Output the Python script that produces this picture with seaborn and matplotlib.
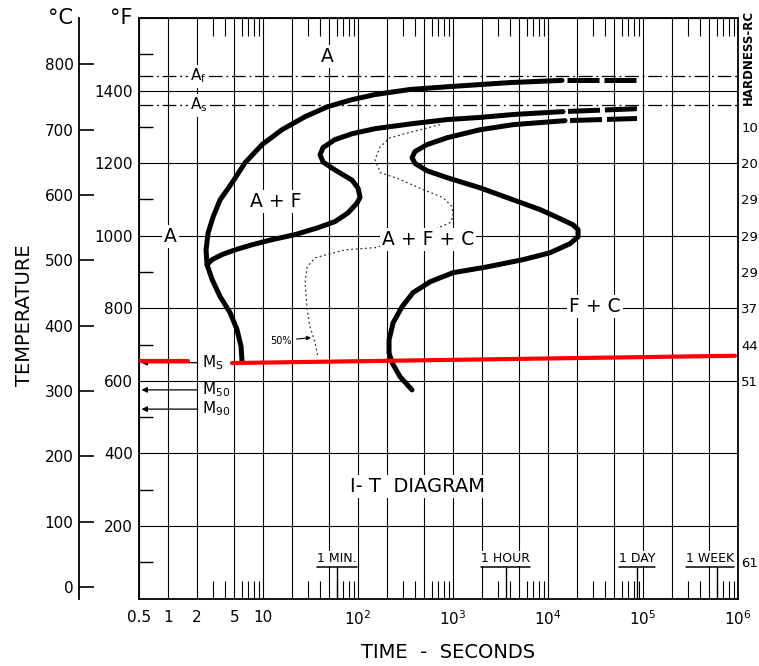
import matplotlib
matplotlib.use("Agg")
import matplotlib.pyplot as plt
import seaborn as sns

sns.set_style("white")
plt.rcParams['font.family'] = ['DejaVu Sans']
plt.rcParams['mathtext.default'] = 'regular'
plt.rcParams['text.color'] = 'black'
plt.rcParams['xtick.color'] = 'black'
plt.rcParams['ytick.color'] = 'black'
plt.rcParams['axes.labelcolor'] = 'black'

# ---------------- data (time in seconds, temperature in deg F) ----------------
# start of transformation (A -> A+F)
START_T = [6.01, 5.87, 5.32, 4.49, 3.53, 2.91, 2.57, 2.51, 2.64, 2.98, 3.53, 4.72, 6.46,
           9.76, 15.8, 27.7, 48.3, 86.5, 151, 352, 929, 3981, 14030]
START_F = [652, 694, 741, 788, 832, 879, 920, 961, 1008, 1052, 1099, 1146, 1201,
           1251, 1292, 1328, 1356, 1375, 1389, 1403, 1411, 1422, 1428]
START_TAIL_T = [14030, 86500]
START_TAIL_F = [1428, 1428]

# start of carbide (A+F -> A+F+C)
CARB_T = [2.57, 2.91, 3.70, 5.07, 7.66, 12.4, 21.7, 37.9, 57.3, 78.5, 97.6, 105, 100,
          86.5, 57.3, 42.8, 39.8, 42.8, 57.3, 86.5, 151, 379, 865, 1923, 4285, 14380]
CARB_F = [920, 934, 948, 961, 975, 989, 1003, 1022, 1039, 1063, 1090, 1106, 1131,
          1153, 1181, 1203, 1223, 1243, 1265, 1281, 1295, 1309, 1320, 1326, 1334, 1342]
CARB_TAIL_T = [14380, 86500]
CARB_TAIL_F = [1342, 1350]

# end of transformation (-> F+C)
END_T = [370, 277, 228, 212, 212, 234, 290, 379, 573, 1000, 2280, 5460, 10500, 17050,
         20700, 20700, 18300, 13370, 8240, 4285, 1923, 865, 532, 398, 370, 398, 532,
         865, 1923, 4285, 15100]
END_F = [575, 611, 650, 677, 713, 760, 804, 843, 873, 898, 914, 934, 953, 978,
         997, 1017, 1030, 1047, 1072, 1099, 1132, 1160, 1179, 1199, 1215, 1232, 1251,
         1270, 1292, 1306, 1317]
END_TAIL_T = [15100, 86500]
END_TAIL_F = [1317, 1323]

# 50 % transformation (dotted)
HALF_T = [730, 379, 217, 171, 151, 171, 277, 483, 785, 976, 1000, 929, 450, 151, 73,
          35.3, 29.1, 27.7, 29.1, 31.2, 35.3, 37.9]
HALF_F = [1306, 1287, 1270, 1245, 1210, 1174, 1155, 1127, 1105, 1080, 1052, 1036,
          1000, 967, 961, 939, 914, 870, 796, 749, 705, 664]

# red Ms marking line
RED_A_T = [0.5, 1.62]
RED_A_F = [655, 655]
RED_B_T = [4.7, 9.3e5]
RED_B_F = [649, 669]

AF_F = 1440
AS_F = 1360
MS_F = 650
M50_F = 575
M90_F = 522

X_MAJOR = [0.5, 1, 2, 5, 10, 20, 50, 100, 200, 500, 1e3, 2e3, 5e3, 1e4, 2e4, 5e4,
           1e5, 2e5, 5e5, 1e6]
X_LABELS = ['0.5', '1', '2', '5', '10', '', '', '$10^{2}$', '', '', '$10^{3}$', '', '',
            '$10^{4}$', '', '', '$10^{5}$', '', '', '$10^{6}$']
X_MINOR = [m * 10 ** e for e in range(0, 6) for m in (3, 4, 6, 7, 8, 9)]

F_MAJOR = [0, 200, 400, 600, 800, 1000, 1200, 1400, 1600]
F_LABELS = ['', '200', '400', '600', '800', '1000', '1200', '1400', '']
F_MINOR = [100, 300, 500, 700, 900, 1100, 1300, 1500]
C_TICKS = [0, 100, 200, 300, 400, 500, 600, 700, 800]

HRC_F = [1300, 1200, 1100, 1000, 900, 800, 700, 600, 100]
HRC_LABELS = ['10', '20', '29', '29', '29', '37', '44', '51', '61']

MARK_T = [60, 3600, 86400, 604800]
MARK_LABELS = ['1 MIN.', '1 HOUR', '1 DAY', '1 WEEK']

# ---------------- figure ----------------
fig = plt.figure(figsize=(7.59, 6.66), dpi=100)
ax = fig.add_axes([0.18379, 0.10135, 0.78854, 0.87162])
ax.set_xscale('log')

thick = dict(color='black', linewidth=3.6, solid_capstyle='round',
             solid_joinstyle='round', ax=ax, sort=False, estimator=None, zorder=4)
sns.lineplot(x=START_T, y=START_F, **thick)
sns.lineplot(x=CARB_T, y=CARB_F, **thick)
sns.lineplot(x=END_T, y=END_F, **thick)
dash_tail = dict(color='black', linewidth=3.6, ax=ax, sort=False, estimator=None,
                 zorder=4, linestyle=(6.4, (6.4, 1.0)))
sns.lineplot(x=START_TAIL_T, y=START_TAIL_F, **dash_tail)
sns.lineplot(x=CARB_TAIL_T, y=CARB_TAIL_F, **dash_tail)
sns.lineplot(x=END_TAIL_T, y=END_TAIL_F, **dash_tail)
sns.lineplot(x=HALF_T, y=HALF_F, color='#333333', linewidth=0.9,
             linestyle=(0, (1.5, 2.2)), ax=ax, sort=False, estimator=None, zorder=2)

ax.set_xlim(0.5, 1e6)
ax.set_ylim(0, 1600)
ax.set_xlabel('')
ax.set_ylabel('')

# ticks & grid
ax.set_xticks(X_MAJOR)
ax.set_xticklabels(X_LABELS)
ax.set_xticks(X_MINOR, minor=True)
ax.set_yticks(F_MAJOR)
ax.set_yticklabels(F_LABELS)
ax.set_yticks(F_MINOR, minor=True)
ax.tick_params(axis='both', which='major', length=0, labelsize=11)
ax.tick_params(axis='x', which='major', pad=8)
ax.tick_params(axis='y', which='major', pad=4.5)
ax.tick_params(axis='x', which='minor', direction='in', length=13, width=0.8,
               top=True, bottom=True, labelbottom=False)
ax.tick_params(axis='y', which='minor', direction='in', length=10, width=1.0,
               left=True, right=True, labelleft=False)
ax.set_axisbelow(True)
ax.grid(True, which='major', color='black', linewidth=0.8)
ax.grid(False, which='minor')
for s in ax.spines.values():
    s.set_color('black')
    s.set_linewidth(1.3)

# Af / As lines
ax.axhline(AF_F, color='black', lw=0.9, linestyle=(0, (11, 3, 1.5, 3)), zorder=1)
ax.axhline(AS_F, color='black', lw=0.9, linestyle=(0, (11, 3, 1.5, 3)), zorder=1)
box = dict(facecolor='white', edgecolor='none', pad=1.5)
ax.text(2.1, AF_F, 'A$_{f}$', fontsize=11, ha='center', va='center', bbox=box, zorder=3)
ax.text(2.1, AS_F, 'A$_{s}$', fontsize=11, ha='center', va='center', bbox=box, zorder=3)

# M lines
for val, lab in [(MS_F, 'M$_{S}$'), (M50_F, 'M$_{50}$'), (M90_F, 'M$_{90}$')]:
    ax.annotate('', xy=(0.525, val), xytext=(2.05, val),
                arrowprops=dict(arrowstyle='-|>', color='black', lw=0.9,
                                mutation_scale=8, shrinkA=0, shrinkB=0), zorder=3)
    ax.text(2.25, val, lab, fontsize=11, ha='left', va='center', zorder=3)

# red Ms line
sns.lineplot(x=RED_A_T, y=RED_A_F, color='#ff0000', linewidth=3.0, ax=ax,
             sort=False, estimator=None, zorder=6)
sns.lineplot(x=RED_B_T, y=RED_B_F, color='#ff0000', linewidth=3.0, ax=ax,
             sort=False, estimator=None, zorder=6)

# region labels
lab = dict(fontsize=13.5, ha='center', va='center', bbox=box, zorder=5)
ax.text(47.2, 1494, 'A', **lab)
ax.text(13.7, 1094, 'A + F', **lab)
ax.text(1.05, 998, 'A', **lab)
ax.text(546, 990, 'A + F + C', **lab)
ax.text(31000, 805, 'F + C', **lab)
ax.text(418, 308, 'I- T  DIAGRAM', fontsize=14, ha='center', va='center', bbox=box, zorder=5)
ax.annotate('50%', xy=(32.0, 719), xytext=(15.5, 711), fontsize=7, ha='center',
            va='center', arrowprops=dict(arrowstyle='-|>', color='black', lw=0.8,
                                         mutation_scale=6, shrinkA=1, shrinkB=0),
            zorder=5)

# time markers
texts = []
for t, s in zip(MARK_T, MARK_LABELS):
    ax.vlines(t, 0, 87, color='black', lw=1.0, zorder=3)
    dx = -7 if s == '1 WEEK' else 0
    tx = ax.annotate(s, xy=(t, 93), xytext=(dx, 0), textcoords='offset pixels',
                     fontsize=9, ha='center', va='bottom', zorder=5,
                     bbox=dict(facecolor='white', edgecolor='none', pad=0.5))
    texts.append(tx)
fig.canvas.draw()
inv = ax.transData.inverted()
for tx in texts:
    bb = tx.get_window_extent()
    (x0, _), (x1, _) = inv.transform([(bb.x0, 0), (bb.x1, 0)])
    ax.plot([x0, x1], [87, 87], color='black', lw=1.1, zorder=5)

# deg C scale
secax = ax.secondary_yaxis(-0.101, functions=(lambda f: (f - 32) * 5 / 9,
                                              lambda c: c * 9 / 5 + 32))
secax.set_yticks(C_TICKS)
secax.tick_params(direction='in', length=11, width=1.2, labelsize=11, pad=4)
secax.spines['left'].set_linewidth(1.3)
secax.spines['left'].set_color('black')

# hardness labels
ax2 = ax.twinx()
ax2.set_ylim(0, 1600)
ax2.set_yticks(HRC_F)
ax2.set_yticklabels(HRC_LABELS)
ax2.tick_params(axis='y', length=0, labelsize=9.5, pad=2.3)
for s in ax2.spines.values():
    s.set_visible(False)
ax2.grid(False)

# titles / axis names
fig.text(61 / 759, 1 - 18 / 666, '°C', fontsize=15, ha='center', va='center')
fig.text(121 / 759, 1 - 18 / 666, '°F', fontsize=15, ha='center', va='center')
fig.text(25 / 759, 1 - 315 / 666, 'TEMPERATURE', fontsize=14, rotation=90,
         ha='center', va='center')
fig.text(448 / 759, 1 - 653 / 666, 'TIME  -  SECONDS', fontsize=14, ha='center', va='center')
fig.text(748 / 759, 1 - 57 / 666, 'HARDNESS-RC', fontsize=8.5, fontweight='bold',
         rotation=90, ha='center', va='center')

fig.savefig('out.png', dpi=100)
